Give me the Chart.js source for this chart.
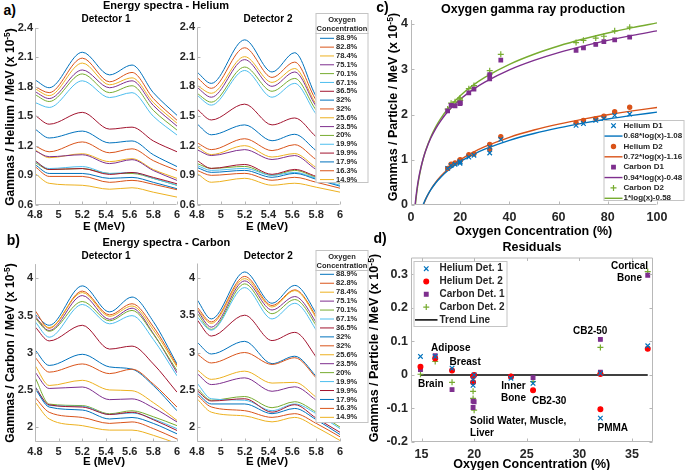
<!DOCTYPE html>
<html>
<head>
<meta charset="utf-8">
<script src="https://cdn.jsdelivr.net/npm/chart.js@4/dist/chart.umd.min.js"></script>
<style>
  body { margin: 0; background: #fff; }
  #fig { position: relative; width: 685px; height: 470px; background: #fff; overflow: hidden; }
  #fig canvas { position: absolute; }
  .lbl { position: absolute; transform: translate(-50%, -50%); font-family: 'Liberation Sans', Arial, sans-serif;
         font-weight: bold; white-space: nowrap; line-height: 1; color: #000; }
  .lbl sup { font-size: 0.7em; vertical-align: 0.45em; line-height: 0; }
</style>
</head>
<body>
<div id="fig"></div>
<script>
// --- spectra (a, b): counts per MeV, x 10^-5, read at these energies ---
const energy = [4.8, 4.92, 5.2, 5.43, 5.62, 5.8, 6.0];
const concLabels = ['88.9%', '82.8%', '78.4%', '75.1%', '70.1%', '67.1%', '36.5%', '32%', '32%',
                    '25.6%', '23.5%', '20%', '19.9%', '19.9%', '17.9%', '16.3%', '14.9%'];

const heliumDet1 = [
  [1.87, 1.79, 2.15, 1.92, 2.02, 1.74, 1.51],
  [1.80, 1.74, 2.09, 1.85, 1.945, 1.68, 1.46],
  [1.78, 1.71, 2.04, 1.82, 1.89, 1.64, 1.43],
  [1.75, 1.68, 1.97, 1.79, 1.86, 1.61, 1.40],
  [1.72, 1.65, 1.93, 1.74, 1.81, 1.56, 1.36],
  [1.64, 1.59, 1.86, 1.69, 1.74, 1.50, 1.31],
  [1.51, 1.42, 1.54, 1.37, 1.39, 1.25, 1.14],
  [1.37, 1.28, 1.35, 1.23, 1.25, 1.11, 0.99],
  [1.20, 1.14, 1.24, 1.13, 1.17, 1.05, 0.95],
  [1.16, 1.08, 1.12, 1.04, 1.07, 0.96, 0.87],
  [1.15, 1.09, 1.11, 1.02, 1.06, 0.95, 0.85],
  [1.03, 0.96, 0.97, 0.92, 0.92, 0.87, 0.80],
  [1.04, 0.97, 0.99, 0.92, 0.93, 0.87, 0.80],
  [1.05, 0.96, 0.97, 0.91, 0.93, 0.88, 0.815],
  [1.01, 0.92, 0.92, 0.87, 0.88, 0.83, 0.765],
  [0.99, 0.89, 0.89, 0.83, 0.85, 0.81, 0.755],
  [0.92, 0.82, 0.80, 0.76, 0.775, 0.73, 0.68]
];
const heliumDet2 = [
  [1.945, 1.83, 2.27, 1.945, 2.14, 1.70, 1.45],
  [1.89, 1.78, 2.19, 1.89, 2.045, 1.66, 1.40],
  [1.81, 1.73, 2.10, 1.84, 1.98, 1.62, 1.38],
  [1.79, 1.69, 2.07, 1.80, 1.945, 1.60, 1.36],
  [1.73, 1.64, 1.995, 1.75, 1.88, 1.56, 1.32],
  [1.71, 1.61, 1.96, 1.69, 1.83, 1.52, 1.29],
  [1.57, 1.46, 1.62, 1.41, 1.48, 1.29, 1.12],
  [1.42, 1.31, 1.41, 1.25, 1.315, 1.15, 0.99],
  [1.23, 1.16, 1.27, 1.15, 1.21, 1.06, 0.93],
  [1.19, 1.11, 1.20, 1.085, 1.12, 0.98, 0.87],
  [1.16, 1.10, 1.16, 1.06, 1.10, 0.96, 0.86],
  [1.02, 0.97, 0.99, 0.90, 0.95, 0.88, 0.82],
  [1.00, 0.95, 0.97, 0.90, 0.93, 0.87, 0.80],
  [1.05, 0.97, 1.01, 0.91, 0.96, 0.89, 0.83],
  [0.98, 0.93, 0.95, 0.88, 0.92, 0.86, 0.79],
  [0.95, 0.90, 0.92, 0.85, 0.88, 0.83, 0.77],
  [0.92, 0.83, 0.87, 0.80, 0.82, 0.78, 0.73]
];
const carbonDet1 = [
  [3.52, 3.37, 3.90, 3.55, 3.75, 3.42, 2.85],
  [3.57, 3.33, 3.83, 3.51, 3.66, 3.35, 2.83],
  [3.47, 3.34, 3.81, 3.49, 3.63, 3.31, 2.81],
  [3.49, 3.30, 3.77, 3.45, 3.60, 3.26, 2.73],
  [3.47, 3.29, 3.69, 3.43, 3.57, 3.25, 2.76],
  [3.42, 3.21, 3.65, 3.39, 3.50, 3.18, 2.69],
  [3.35, 3.16, 3.37, 3.05, 3.09, 2.85, 2.47],
  [3.04, 2.83, 2.98, 2.81, 2.78, 2.56, 2.22],
  [2.94, 2.74, 2.85, 2.72, 2.78, 2.58, 2.27],
  [2.83, 2.56, 2.63, 2.50, 2.49, 2.33, 2.09],
  [2.74, 2.52, 2.54, 2.37, 2.38, 2.26, 2.07],
  [2.67, 2.31, 2.29, 2.18, 2.22, 2.14, 2.02],
  [2.55, 2.29, 2.28, 2.17, 2.19, 2.11, 1.98],
  [2.54, 2.30, 2.27, 2.17, 2.20, 2.10, 1.955],
  [2.52, 2.27, 2.23, 2.11, 2.13, 2.05, 1.91],
  [2.40, 2.20, 2.13, 2.05, 2.07, 1.98, 1.84],
  [2.34, 2.11, 2.02, 1.96, 1.96, 1.89, 1.78]
];
const carbonDet2 = [
  [3.71, 3.45, 4.08, 3.66, 3.90, 3.52, 2.85],
  [3.61, 3.41, 4.02, 3.63, 3.84, 3.48, 2.82],
  [3.58, 3.39, 3.99, 3.61, 3.83, 3.46, 2.80],
  [3.57, 3.34, 3.96, 3.57, 3.75, 3.40, 2.75],
  [3.53, 3.31, 3.92, 3.52, 3.71, 3.36, 2.72],
  [3.48, 3.30, 3.87, 3.45, 3.66, 3.30, 2.68],
  [3.44, 3.22, 3.50, 3.16, 3.27, 2.94, 2.45],
  [3.14, 2.98, 3.15, 2.85, 2.95, 2.68, 2.30],
  [2.98, 2.86, 3.00, 2.84, 2.93, 2.66, 2.28],
  [2.77, 2.64, 2.75, 2.59, 2.60, 2.40, 2.15],
  [2.72, 2.57, 2.66, 2.48, 2.54, 2.36, 2.12],
  [2.52, 2.36, 2.41, 2.26, 2.34, 2.20, 2.00],
  [2.59, 2.38, 2.36, 2.22, 2.31, 2.18, 1.98],
  [2.49, 2.35, 2.38, 2.20, 2.30, 2.12, 1.93],
  [2.46, 2.31, 2.31, 2.18, 2.25, 2.10, 1.90],
  [2.43, 2.27, 2.22, 2.13, 2.18, 2.05, 1.87],
  [2.38, 2.20, 2.15, 2.07, 2.13, 2.00, 1.82]
];

// --- gamma production (c) ---
const oxygen = [14.9, 16.3, 17.9, 19.9, 19.9, 20, 23.5, 25.6, 32, 32, 36.5, 67.1, 70.1, 75.1, 78.4, 82.8, 88.9];
const heliumD1Pts = [0.81, 0.87, 0.90, 0.94, 0.92, 0.96, 1.06, 1.10, 1.15, 1.28, 1.45, 1.76, 1.80, 1.87, 1.91, 1.98, 2.01];
const heliumD2Pts = [0.81, 0.90, 0.93, 0.99, 0.97, 1.00, 1.11, 1.13, 1.23, 1.34, 1.51, 1.82, 1.87, 1.91, 1.96, 2.06, 2.16];
const carbonD1Pts = [2.08, 2.20, 2.19, 2.25, 2.24, 2.26, 2.48, 2.56, 2.79, 2.88, 3.20, 3.42, 3.47, 3.55, 3.61, 3.65, 3.71];
const carbonD2Pts = [2.12, 2.25, 2.28, 2.36, 2.34, 2.31, 2.57, 2.64, 2.89, 2.97, 3.33, 3.59, 3.64, 3.69, 3.73, 3.85, 3.93];
const fitLabels = ['0.68*log(x)-1.08', '0.72*log(x)-1.16', '0.94*log(x)-0.48', '1*log(x)-0.58'];
const heliumFitX = [4.8, 5, 5.5, 6, 7, 8, 10, 12, 15, 20, 25, 30, 40, 50, 60, 70, 80, 90, 100];
const heliumD1Fit = [-0.013, 0.014, 0.079, 0.138, 0.243, 0.334, 0.486, 0.610, 0.762, 0.957, 1.109, 1.233, 1.428, 1.580, 1.704, 1.809, 1.900, 1.980, 2.052];
const heliumD2Fit = [-0.030, 0.000, 0.067, 0.130, 0.241, 0.337, 0.498, 0.629, 0.790, 0.997, 1.158, 1.289, 1.496, 1.657, 1.788, 1.898, 1.995, 2.080, 2.156];
const carbonFitX = [1.6, 1.8, 2, 2.5, 3, 4, 5, 6, 8, 10, 12, 15, 20, 25, 30, 40, 50, 60, 70, 80, 90, 100];
const carbonD1Fit = [-0.038, 0.073, 0.172, 0.381, 0.553, 0.823, 1.033, 1.204, 1.475, 1.684, 1.856, 2.066, 2.336, 2.546, 2.717, 2.988, 3.197, 3.369, 3.513, 3.639, 3.750, 3.849];
const carbonD2Fit = [-0.110, 0.008, 0.113, 0.336, 0.519, 0.806, 1.029, 1.212, 1.499, 1.723, 1.905, 2.128, 2.416, 2.639, 2.821, 3.109, 3.332, 3.514, 3.668, 3.802, 3.920, 4.025];

// --- residuals (d) ---
const residualOxygen = [14.9, 16.3, 17.9, 19.9, 19.9, 20, 23.5, 25.6, 32, 32, 36.5];
const residHe1 = [0.055, 0.055, 0.020, -0.014, -0.031, 0.000, -0.010, -0.025, -0.129, 0.005, 0.087];
const residHe2 = [0.024, 0.049, 0.013, -0.004, -0.022, 0.000, -0.005, -0.046, -0.102, 0.003, 0.078];
const residC1 = [0.016, 0.057, -0.044, -0.078, -0.097, -0.080, -0.005, -0.008, 0.008, 0.106, 0.297];
const residC2 = [0.002, 0.040, -0.022, -0.049, -0.070, -0.105, -0.005, -0.020, 0.003, 0.082, 0.308];
const trendX = [14.9, 36.5];
const trendY = [0, 0];
const materialNotes = [
  { lines: ['Cortical', 'Bone'], x: 34.77, y: 0.325, align: 'center' },
  { lines: ['CB2-50'], x: 31.03, y: 0.129, align: 'center' },
  { lines: ['Adipose'], x: 17.78, y: 0.078, align: 'center' },
  { lines: ['Breast'], x: 19.15, y: 0.037, align: 'center' },
  { lines: ['Brain'], x: 15.88, y: -0.029, align: 'center' },
  { lines: ['Inner', 'Bone'], x: 23.74, y: -0.034, align: 'center' },
  { lines: ['CB2-30'], x: 27.13, y: -0.079, align: 'center' },
  { lines: ['Solid Water, Muscle,', 'Liver'], x: 19.61, y: -0.137, align: 'left' },
  { lines: ['PMMA'], x: 33.18, y: -0.158, align: 'center' }
];

// --- tick labels ---
const spectraTicksX = [4.8, 5, 5.2, 5.4, 5.6, 5.8, 6];
const heliumTicksY = [0.6, 0.9, 1.2, 1.5, 1.8, 2.1, 2.4];
const carbonTicksY = [2, 2.5, 3, 3.5, 4];
const prodTicksX = [0, 20, 40, 60, 80, 100];
const prodTicksY = [0, 1, 2, 3, 4];
const residTicksX = [15, 20, 25, 30, 35];
const residTicksY = [-0.2, -0.1, 0, 0.1, 0.2, 0.3];

const FONT = "'Liberation Sans', Arial, sans-serif";
const COLORS = ['#0072BD', '#D95319', '#EDB120', '#7E2F8E', '#77AC30', '#4DBEEE', '#A2142F'];
const fig = document.getElementById('fig');

// axis lines and inward ticks, MATLAB style
const frame = {
  id: 'frame',
  afterDatasetsDraw(chart, args, o) {
    const { ctx, chartArea: a, scales: { x, y } } = chart;
    const L = a.left + 0.5, R = a.right - 0.5, T = a.top + 0.5, B = a.bottom - 0.5;
    ctx.save();
    ctx.strokeStyle = '#b8b8b8';
    ctx.lineWidth = 1;
    ctx.beginPath();
    ctx.moveTo(L, T); ctx.lineTo(L, B); ctx.lineTo(R, B);
    if (o.box) { ctx.lineTo(R, T); ctx.lineTo(L, T); }
    x.ticks.forEach(t => {
      const px = Math.round(x.getPixelForValue(t.value)) + 0.5;
      ctx.moveTo(px, B); ctx.lineTo(px, B - 3);
      if (o.box) { ctx.moveTo(px, T); ctx.lineTo(px, T + 3); }
    });
    y.ticks.forEach(t => {
      const py = Math.round(y.getPixelForValue(t.value)) + 0.5;
      ctx.moveTo(L, py); ctx.lineTo(L + 3, py);
      if (o.box) { ctx.moveTo(R, py); ctx.lineTo(R - 3, py); }
    });
    ctx.stroke();
    ctx.restore();
  }
};

// boxed legend drawn over the plot, positions given in page pixels
const boxLegend = {
  id: 'boxLegend',
  afterDraw(chart, args, o) {
    if (!o.box) return;
    const ctx = chart.ctx;
    const [bx, by, bw, bh] = o.box;
    ctx.save();
    ctx.translate(-o.origin[0], -o.origin[1]);
    ctx.fillStyle = '#fff';
    ctx.fillRect(bx, by, bw, bh);
    ctx.strokeStyle = '#c4c4c4';
    ctx.lineWidth = 1;
    ctx.strokeRect(bx + 0.5, by + 0.5, bw - 1, bh - 1);
    ctx.textBaseline = 'middle';
    ctx.fillStyle = '#262626';
    if (o.title) {
      ctx.font = 'bold ' + o.titleSize + 'px ' + FONT;
      ctx.textAlign = 'center';
      o.title.forEach((t, i) => ctx.fillText(t, bx + bw / 2, o.titleY + i * o.titleStep));
      ctx.beginPath();
      ctx.moveTo(bx, o.sepY + 0.5); ctx.lineTo(bx + bw, o.sepY + 0.5);
      ctx.stroke();
    }
    ctx.font = 'bold ' + o.size + 'px ' + FONT;
    ctx.textAlign = 'left';
    chart.data.datasets.forEach((ds, i) => {
      const y = o.row0 + i * o.step;
      if (ds.showLine === false) {
        ctx.fillStyle = ds.backgroundColor;
        ctx.strokeStyle = ds.borderColor;
        ctx.lineWidth = ds.pointBorderWidth;
        Chart.helpers.drawPoint(ctx, { pointStyle: ds.pointStyle, radius: ds.pointRadius, rotation: 0,
          borderWidth: ds.pointBorderWidth }, (o.sample[0] + o.sample[1]) / 2, y);
      } else {
        ctx.strokeStyle = ds.borderColor;
        ctx.lineWidth = ds.borderWidth;
        ctx.beginPath(); ctx.moveTo(o.sample[0], y); ctx.lineTo(o.sample[1], y); ctx.stroke();
      }
      ctx.fillStyle = '#262626';
      ctx.fillText(ds.label, o.textX, y);
    });
    ctx.restore();
  }
};

// text labels anchored at data coordinates
const notes = {
  id: 'notes',
  afterDatasetsDraw(chart, args, o) {
    if (!o.items) return;
    const { ctx, scales: { x, y } } = chart;
    ctx.save();
    ctx.font = 'bold ' + o.size + 'px ' + FONT;
    ctx.fillStyle = '#000';
    ctx.textBaseline = 'middle';
    o.items.forEach(n => {
      ctx.textAlign = n.align;
      n.lines.forEach((t, i) => ctx.fillText(t, x.getPixelForValue(n.x), y.getPixelForValue(n.y) + i * o.lineH));
    });
    ctx.restore();
  }
};

function scale(min, max, ticks, pad, size) {
  return {
    type: 'linear', min, max,
    afterBuildTicks: s => { s.ticks = ticks.map(v => ({ value: v })); },
    grid: { display: false, drawTicks: false },
    border: { display: false },
    ticks: { padding: pad, autoSkip: false, maxRotation: 0, color: '#262626',
             font: { family: FONT, weight: 'bold', size },
             callback: v => String(Math.round(v * 100) / 100) }
  };
}

// plot = [left, top, right, bottom] of the plot area on the page, m = [left, top, right, bottom] margins
function makeChart(plot, m, datasets, xs, ys, extra) {
  const c = document.createElement('canvas');
  const ox = plot[0] - m[0], oy = plot[1] - m[1];
  c.width = plot[2] - plot[0] + m[0] + m[2];
  c.height = plot[3] - plot[1] + m[1] + m[3];
  c.style.left = ox + 'px';
  c.style.top = oy + 'px';
  fig.appendChild(c);
  xs.afterFit = s => { s.height = m[3]; };
  ys.afterFit = s => { s.width = m[0]; };
  const pl = Object.assign({ legend: { display: false }, tooltip: { enabled: false } }, extra);
  if (pl.boxLegend) pl.boxLegend.origin = [ox, oy];
  return new Chart(c, {
    type: 'line',
    data: { datasets },
    options: {
      responsive: false, animation: false, events: [],
      layout: { padding: { top: m[1], right: m[2], left: 0, bottom: 0 } },
      plugins: pl,
      scales: { x: xs, y: ys }
    },
    plugins: [frame, notes, boxLegend]
  });
}

function spectra(series) {
  return series.map((vals, i) => ({
    label: concLabels[i],
    data: energy.map((e, j) => ({ x: e, y: vals[j] })),
    borderColor: COLORS[i % COLORS.length],
    borderWidth: 1,
    pointRadius: 0,
    cubicInterpolationMode: 'monotone',
    order: -i
  }));
}

function concLegend(top, bottom, titleY, sepY, row0, step) {
  return { box: [315.5, top, 53, bottom - top], title: ['Oxygen', 'Concentration'], titleSize: 7.5,
           titleY, titleStep: 9, sepY, row0, step, sample: [320, 334], textX: 336, size: 7.5 };
}

// a) helium spectra
makeChart([35, 27, 177, 205], [30, 8, 10, 16], spectra(heliumDet1),
  scale(4.8, 6, spectraTicksX, 3, 11), scale(0.6, 2.4, heliumTicksY, 2, 11), {});
makeChart([197, 27, 340, 205], [30, 16, 30, 16], spectra(heliumDet2),
  scale(4.8, 6, spectraTicksX, 3, 11), scale(0.6, 2.4, heliumTicksY, 2, 11),
  { boxLegend: concLegend(13, 183, 20, 33, 38.3, 8.83) });

// b) carbon spectra
makeChart([35, 263, 177, 442], [30, 8, 10, 16], spectra(carbonDet1),
  scale(4.8, 6, spectraTicksX, 3, 11), scale(1.8, 4.2, carbonTicksY, 2, 11), {});
makeChart([197, 263, 340, 442], [30, 16, 30, 16], spectra(carbonDet2),
  scale(4.8, 6, spectraTicksX, 3, 11), scale(1.8, 4.2, carbonTicksY, 2, 11),
  { boxLegend: concLegend(250, 423, 257, 270, 274.3, 8.94) });

// c) oxygen gamma ray production
function pts(label, xs, ys, style, color, r) {
  return { label, data: xs.map((x, i) => ({ x, y: ys[i] })), showLine: false, pointStyle: style,
           pointRadius: r, pointBorderWidth: 1.2, borderColor: color, backgroundColor: color, order: 0 };
}
function fit(label, xs, ys, color) {
  return { label, data: xs.map((x, i) => ({ x, y: ys[i] })), borderColor: color, borderWidth: 1.4,
           pointRadius: 0, cubicInterpolationMode: 'monotone', order: 1 };
}
makeChart([411, 17, 657, 205], [30, 8, 28, 18], [
    pts('Helium D1', oxygen, heliumD1Pts, 'crossRot', COLORS[0], 3.2),
    fit(fitLabels[0], heliumFitX, heliumD1Fit, COLORS[0]),
    pts('Helium D2', oxygen, heliumD2Pts, 'circle', COLORS[1], 2.1),
    fit(fitLabels[1], heliumFitX, heliumD2Fit, COLORS[1]),
    pts('Carbon D1', oxygen, carbonD1Pts, 'rect', COLORS[3], 2.5),
    fit(fitLabels[2], carbonFitX, carbonD1Fit, COLORS[3]),
    pts('Carbon D2', oxygen, carbonD2Pts, 'cross', COLORS[4], 3),
    fit(fitLabels[3], carbonFitX, carbonD2Fit, COLORS[4])
  ],
  scale(0, 100, prodTicksX, 5, 12.5), scale(0, 4.1, prodTicksY, 3, 12.5),
  { boxLegend: { box: [603.5, 120, 81, 81], row0: 125.7, step: 10.37, sample: [604.5, 622.5], textX: 623.5, size: 8 } });

// d) residuals
makeChart([411, 255, 653, 442], [30, 8, 12, 18], [
    pts('Helium Det. 1', residualOxygen, residHe1, 'crossRot', COLORS[0], 3.2),
    pts('Helium Det. 2', residualOxygen, residHe2, 'circle', '#FF0000', 2.4),
    pts('Carbon Det. 1', residualOxygen, residC1, 'rect', COLORS[3], 2.6),
    pts('Carbon Det. 2', residualOxygen, residC2, 'cross', COLORS[4], 3),
    { label: 'Trend Line', data: trendX.map((x, i) => ({ x, y: trendY[i] })), borderColor: '#000',
      borderWidth: 1.5, pointRadius: 0, order: 2 }
  ],
  scale(14, 37, residTicksX, 5, 12.5), scale(-0.2, 0.35, residTicksY, 3, 12.5),
  { frame: { box: true },
    notes: { items: materialNotes, size: 10, lineH: 12 },
    boxLegend: { box: [413.5, 261, 94, 66], row0: 268.7, step: 12.8, sample: [415, 437.5], textX: 439.5, size: 10 } });

// titles and axis labels
function label(html, x, y, size, rot) {
  const d = document.createElement('div');
  d.className = 'lbl';
  d.innerHTML = html;
  d.style.left = x + 'px';
  d.style.top = y + 'px';
  d.style.fontSize = size + 'px';
  if (rot) d.style.transform = 'translate(-50%, -50%) rotate(-90deg)';
  fig.appendChild(d);
}
label('a)', 9.7, 9.5, 14);
label('Energy spectra - Helium', 166, 5, 11);
label('Detector 1', 106, 18.5, 10);
label('Detector 2', 268, 18.5, 10);
label('E (MeV)', 104, 227, 11.5);
label('E (MeV)', 267, 227, 11.5);
label('Gammas / Helium / MeV (x 10<sup>-5</sup>)', 10, 117, 12, true);

label('b)', 13.3, 240, 14);
label('Energy spectra - Carbon', 166.3, 241.7, 11);
label('Detector 1', 106, 255.8, 10);
label('Detector 2', 268.3, 255.8, 10);
label('E (MeV)', 104, 462, 11.5);
label('E (MeV)', 267, 462, 11.5);
label('Gammas / Carbon / MeV (x 10<sup>-5</sup>)', 10, 352.5, 12, true);

label('c)', 382.5, 6.7, 14);
label('Oxygen gamma ray production', 533, 9, 12.5);
label('Oxygen Concentration (%)', 533.7, 231, 12.5);
label('Gammas / Particle / MeV (x 10<sup>-5</sup>)', 392.5, 107, 12.5, true);

label('d)', 380, 238.3, 14);
label('Residuals', 532, 246.7, 12.5);
label('Oxygen Concentration (%)', 531.7, 463.5, 12.5);
label('Gammas / Particle / MeV (x 10<sup>-5</sup>)', 374, 347.5, 12.5, true);
</script>
</body>
</html>
